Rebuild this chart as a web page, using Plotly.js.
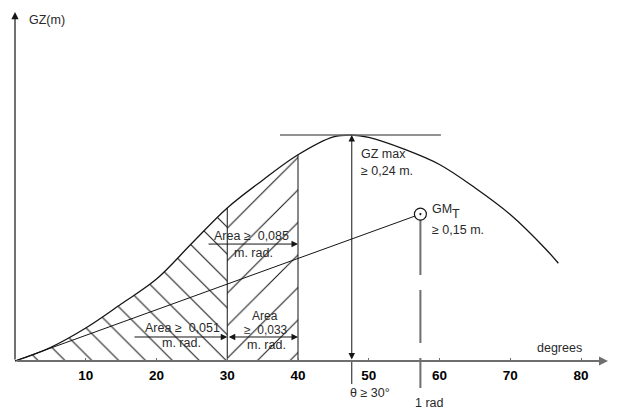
<!DOCTYPE html>
<html><head><meta charset="utf-8">
<script src="https://cdn.plot.ly/plotly-3.0.1.min.js"></script>
<style>html,body{margin:0;padding:0;background:#fff}#chart{width:617px;height:409px}</style>
</head><body><div id="chart"></div>
<script>
// ---- data ----
const heelAngleDeg = [0, 5, 10, 15, 20, 25, 30, 35, 40, 45, 47.6, 50, 55, 60, 65, 70, 75, 76.8];
const gzValuesM    = [0, 0.0143, 0.035, 0.0605, 0.087, 0.125, 0.1625, 0.192, 0.219, 0.238, 0.24, 0.2375, 0.225, 0.2087, 0.184, 0.1556, 0.119, 0.1038];
const tickValues = [10, 20, 30, 40, 50, 60, 70, 80];
const tickLabels = ['10', '20', '30', '40', '50', '60', '70', '80'];
const areaStartDeg = 30;
const areaEndDeg = 40;
const gzMaxAngleDeg = 47.6;
const gzMaxM = 0.24;
const oneRadianDeg = 57.3;
const gmTransverseM = 0.156;

// ---- styling ----
const ink = '#151515', grey = '#6e6e6e', txt = '#2a2a2a';
const FONT = 'Liberation Sans, Arial, sans-serif';
const FS = 12.5;
const NB = '\u00a0';

const gzAt = d => gzValuesM[heelAngleDeg.indexOf(d)];
const pick = (lo, hi) => heelAngleDeg.map((d, i) => i).filter(i => heelAngleDeg[i] >= lo && heelAngleDeg[i] <= hi);
const iA = pick(0, areaStartDeg), iB = pick(areaStartDeg, areaEndDeg);

const traces = [
  { x: iA.map(i => heelAngleDeg[i]), y: iA.map(i => gzValuesM[i]), mode: 'lines',
    line: { width: 0, shape: 'spline' }, fill: 'tozeroy', fillcolor: 'rgba(0,0,0,0)',
    fillpattern: { shape: '\\', size: 19, solidity: 0.055, fgcolor: ink, bgcolor: 'rgba(0,0,0,0)' }, hoverinfo: 'skip' },
  { x: iB.map(i => heelAngleDeg[i]), y: iB.map(i => gzValuesM[i]), mode: 'lines',
    line: { width: 0, shape: 'spline' }, fill: 'tozeroy', fillcolor: 'rgba(0,0,0,0)',
    fillpattern: { shape: '/', size: 23, solidity: 0.045, fgcolor: ink, bgcolor: 'rgba(0,0,0,0)' }, hoverinfo: 'skip' },
  { x: heelAngleDeg, y: gzValuesM, mode: 'lines', line: { color: ink, width: 1.3, shape: 'spline' } },
  { x: [areaStartDeg, areaStartDeg, null, areaEndDeg, areaEndDeg], y: [0, gzAt(areaStartDeg), null, 0, gzAt(areaEndDeg)],
    mode: 'lines', line: { color: ink, width: 1 } },
  { x: [0, oneRadianDeg], y: [0, gmTransverseM], mode: 'lines', line: { color: ink, width: 1 } },
  { x: [37.46, 60.2], y: [gzMaxM, gzMaxM], mode: 'lines', line: { color: grey, width: 1.5 } },
  { x: [oneRadianDeg, oneRadianDeg], y: [gmTransverseM, -0.0287], mode: 'lines',
    line: { color: grey, width: 2, dash: '61px,15px,53px,15px,40px,15px' } },
  { x: [gzMaxAngleDeg, gzMaxAngleDeg], y: [0, -0.0244], mode: 'lines', line: { color: ink, width: 1 } },
  { x: [oneRadianDeg], y: [gmTransverseM], mode: 'markers',
    marker: { symbol: 'circle-dot', size: 12, color: '#fff', line: { color: ink, width: 1.2 } } }
];

function arrow(x0, y0, x1, y1, opts) {
  return Object.assign({ x: x1, y: y1, ax: x0, ay: y0, xref: 'x', yref: 'y', axref: 'x', ayref: 'y',
    text: '', showarrow: true, arrowhead: 2, arrowsize: 1.3, arrowwidth: 1, arrowcolor: ink, standoff: 0 }, opts || {});
}
function label(text, x, y, opts) {
  return Object.assign({ x: x, y: y, xref: 'x', yref: 'y', text: text, showarrow: false,
    font: { family: FONT, size: FS, color: txt }, xanchor: 'center', yanchor: 'middle' }, opts || {});
}

const annotations = [
  arrow(0, 0, 0, 0.3706, { arrowsize: 1.2, arrowwidth: 1.2 }),
  arrow(0, 0, 83.82, 0, { arrowcolor: grey, arrowwidth: 2, arrowsize: 0.9 }),
  arrow(gzMaxAngleDeg, 0, gzMaxAngleDeg, gzMaxM, { arrowside: 'end+start', startarrowhead: 2, startarrowsize: 1.3 }),
  arrow(27.14, 0.1242, areaEndDeg, 0.1242),
  arrow(16.68, 0.0255, areaStartDeg, 0.0255),
  arrow(areaStartDeg, 0.0255, areaEndDeg, 0.0255, { arrowside: 'end+start', startarrowhead: 2, startarrowsize: 1.3 }),

  label('GZ(m)', 1.7, 0.3621, { xanchor: 'left' }),
  label('Area ≥' + NB + NB + '0,085', 33.36, 0.1327),
  label('m. rad.', 33.78, 0.1152),
  label('Area ≥' + NB + NB + '0,051', 23.70, 0.0354),
  label('m. rad.', 23.60, 0.0186),
  label('Area', 35.34, 0.0483, { font: { family: FONT, size: 12, color: txt } }),
  label('≥' + NB + NB + '0,033', 35.48, 0.0334, { font: { family: FONT, size: 12, color: txt } }),
  label('m. rad.', 35.55, 0.0175),
  label('GZ max', 48.62, 0.2198, { xanchor: 'left' }),
  label('≥ 0,24 m.', 48.62, 0.2023, { xanchor: 'left' }),
  label('GM', 58.66, 0.1614, { xanchor: 'left' }),
  label('T', 61.45, 0.1565, { xanchor: 'left' }),
  label('≥ 0,15 m.', 58.66, 0.1396, { xanchor: 'left' }),
  label('degrees', 77.03, 0.0138),
  label('θ ≥ 30°', 50.18, -0.0345),
  label('1 rad', 58.52, -0.0451)
];

const layout = {
  width: 617, height: 409,
  margin: { l: 0, r: 0, t: 0, b: 0 },
  paper_bgcolor: '#fff', plot_bgcolor: '#fff',
  showlegend: false,
  xaxis: { range: [-2.1201, 85.0883], anchor: 'free', position: 48 / 409,
    showgrid: false, zeroline: false, showline: false,
    tickmode: 'array', tickvals: tickValues, ticktext: tickLabels,
    ticks: 'inside', ticklen: 3, tickwidth: 1, tickcolor: grey,
    tickfont: { family: FONT, size: 13.5, color: '#000', weight: 'bold' }, ticklabelstandoff: 4 },
  yaxis: { range: [-0.05097, 0.38336], visible: false },
  annotations: annotations
};

Plotly.newPlot('chart', traces, layout, { displayModeBar: false, staticPlot: true });
</script>
</body></html>
